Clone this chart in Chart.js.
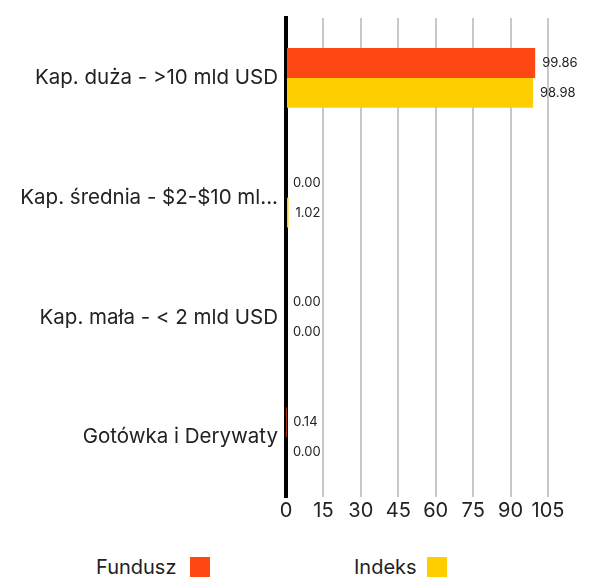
<!DOCTYPE html>
<html>
<head>
<meta charset="utf-8">
<script src="https://cdn.jsdelivr.net/npm/chart.js@4"></script>
<style>
  body { margin: 0; background: #fff; font-family: Inter, "Noto Sans", sans-serif; }
  #wrap { position: relative; width: 594px; height: 525px; }
  #legend { position: absolute; top: 555px; left: 0; width: 594px; height: 24px; font-size: 20px; color: #222; }
  #legend span { position: absolute; top: 0; line-height: 24px; }
  #legend i { position: absolute; top: 2px; width: 20px; height: 20px; }
</style>
</head>
<body>
<div id="wrap"><canvas id="chart"></canvas></div>
<div id="legend">
  <span style="left:96px;">Fundusz</span><i style="left:190px; background:#ff4713"></i>
  <span style="left:354px;">Indeks</span><i style="left:427px; background:#ffce00"></i>
</div>
<script>
// categories and values
const categories = ['Kap. duża - >10 mld USD', 'Kap. średnia - $2-$10 ml...', 'Kap. mała - < 2 mld USD', 'Gotówka i Derywaty'];
const fundusz = [99.86, 0.00, 0.00, 0.14];
const indeks = [98.98, 1.02, 0.00, 0.00];
const xTicks = [0, 15, 30, 45, 60, 75, 90, 105];

// value labels right of each bar
const valueLabels =
{
  id: 'valueLabels',
  afterDatasetsDraw(chart)
  {
    const ctx = chart.ctx;
    ctx.save();
    ctx.font = '13px Inter, "Noto Sans", sans-serif';
    ctx.fillStyle = '#222';
    ctx.textAlign = 'left';
    ctx.textBaseline = 'middle';
    chart.data.datasets.forEach((ds, i) =>
    {
      chart.getDatasetMeta(i).data.forEach((bar, j) =>
      {
        ctx.fillText(ds.data[j].toFixed(2), bar.x + 7, bar.y);
      });
    });
    ctx.restore();
  }
};

new Chart(document.getElementById('chart'),
{
  type: 'bar',
  data:
  {
    labels: categories,
    datasets: [
      {label: 'Fundusz', data: fundusz, backgroundColor: '#ff4713', categoryPercentage: 0.5, barPercentage: 1},
      {label: 'Indeks', data: indeks, backgroundColor: '#ffce00', categoryPercentage: 0.5, barPercentage: 1}
    ]
  },
  options:
  {
    indexAxis: 'y',
    responsive: true,
    maintainAspectRatio: false,
    animation: false,
    layout: {padding: {top: 18, right: 46, left: 0, bottom: 0}},
    plugins: {legend: {display: false}, tooltip: {enabled: false}},
    scales:
    {
      x:
      {
        min: 0,
        max: 105,
        afterBuildTicks: (s) => { s.ticks = xTicks.map(v => ({value: v})); },
        grid: {color: '#c8c8c8', lineWidth: 2, drawTicks: false},
        border: {display: false},
        ticks: {color: '#222', font: {size: 20, family: 'Inter, "Noto Sans", sans-serif'}, padding: 2, maxRotation: 0, autoSkip: false}
      },
      y:
      {
        afterFit: (s) => { s.width = 286; },
        grid: {display: false},
        border: {display: true, color: '#000', width: 4},
        ticks: {color: '#222', font: {size: 20.5, family: 'Inter, "Noto Sans", sans-serif'}, padding: 0}
      }
    }
  },
  plugins: [valueLabels]
});
</script>
</body>
</html>
